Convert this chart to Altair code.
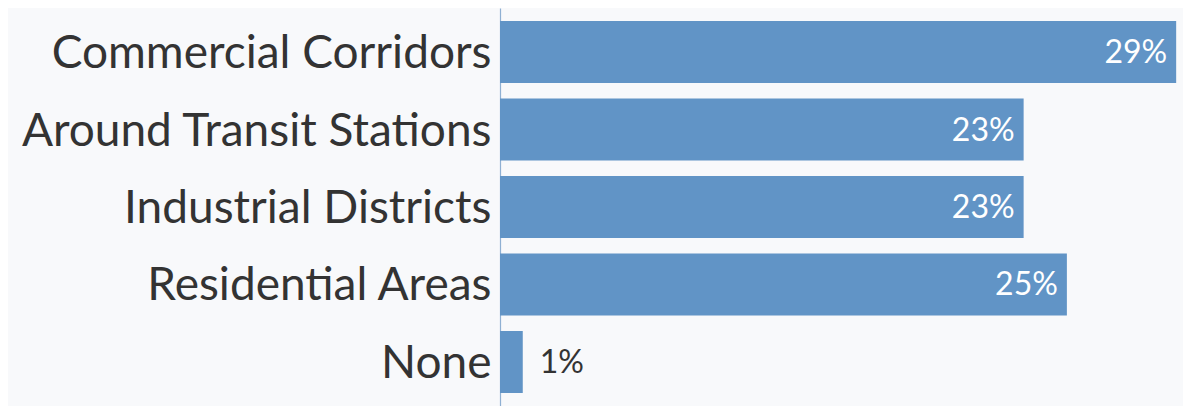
import altair as alt
import pandas as pd

categories = ["Commercial Corridors", "Around Transit Stations", "Industrial Districts", "Residential Areas", "None"]
values = [29.7, 23.0, 23.0, 24.9, 1.0]
labels = ["29%", "23%", "23%", "25%", "1%"]

df = pd.DataFrame({"category": categories, "value": values, "label": labels})

FONT = "Lato"
BAR = "#6194c6"

y_enc = alt.Y("category:N", sort=categories, title=None,
              scale=alt.Scale(paddingInner=0.2, paddingOuter=0.168),
              axis=alt.Axis(labelFontSize=46, labelFont=FONT, labelColor="#333333",
                            labelPadding=9, labelOffset=2, ticks=False, domainColor="#8fb0d3",
                            domainWidth=1.2, labelLimit=600))
x_enc = alt.X("value:Q", scale=alt.Scale(domain=[0, 30], nice=False), axis=None)

bars = alt.Chart(df).mark_bar(color=BAR).encode(y=y_enc, x=x_enc)

inside = alt.Chart(df).transform_filter("datum.value >= 5").mark_text(
    align="right", baseline="middle", dx=-9, dy=1, fontSize=32, font=FONT, color="white"
).encode(y=alt.Y("category:N", sort=categories), x="value:Q", text="label:N")

outside = alt.Chart(df).transform_filter("datum.value < 5").mark_text(
    align="left", baseline="middle", dx=17, dy=1, fontSize=32, font=FONT, color="#333333"
).encode(y=alt.Y("category:N", sort=categories), x="value:Q", text="label:N")

chart = (bars + inside + outside).properties(
    width=683, height=398,
    autosize=alt.AutoSizeParams(type="none"),
    padding={"left": 492, "top": 0, "right": 0, "bottom": 0},
    background="#f8f9fb",
).configure_view(stroke=None)

chart.save("out.html", embed_options={"renderer": "svg", "actions": False})
